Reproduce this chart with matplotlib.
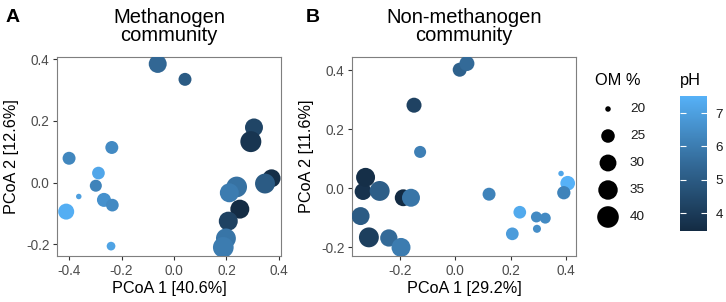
import numpy as np
import matplotlib.pyplot as plt
from matplotlib.colors import LinearSegmentedColormap, Normalize
from matplotlib.cm import ScalarMappable

plt.rcParams['font.family'] = ['Liberation Sans', 'DejaVu Sans']

# Panel A: methanogen community (PCoA scores, pH, organic matter %)
meth_pc1 = [-0.062, 0.042, 0.305, 0.293, -0.237, -0.400, -0.288, -0.298, -0.363, -0.267, -0.235,
            -0.411, -0.240, 0.372, 0.347, 0.239, 0.211, 0.251, 0.207, 0.198, 0.188]
meth_pc2 = [0.385, 0.335, 0.179, 0.133, 0.114, 0.079, 0.031, -0.010, -0.045, -0.056, -0.073,
            -0.094, -0.206, 0.014, -0.003, -0.014, -0.033, -0.086, -0.125, -0.181, -0.210]
meth_ph = [5.4, 5.0, 4.3, 3.8, 6.4, 6.3, 7.2, 6.2, 7.0, 6.6, 6.4,
           7.4, 7.1, 3.6, 5.0, 5.7, 6.0, 3.5, 4.2, 5.8, 6.0]
meth_om = [32, 24.3, 32, 38.5, 24.3, 24.3, 24, 23.3, 20, 25.6, 24,
           28.5, 20.8, 32, 36, 37.8, 34, 34, 34, 36, 37.8]

# Panel B: non-methanogen community
non_pc1 = [0.016, 0.042, -0.149, -0.127, -0.333, -0.324, -0.273, -0.188, -0.160, -0.342, -0.312,
           -0.240, -0.196, 0.122, 0.233, 0.206, 0.293, 0.325, 0.295, 0.382, 0.406, 0.392]
non_pc2 = [0.401, 0.422, 0.281, 0.123, -0.011, 0.037, -0.009, -0.032, -0.032, -0.094, -0.166,
           -0.168, -0.200, -0.020, -0.081, -0.154, -0.097, -0.101, -0.137, 0.050, 0.017, -0.015]
non_ph = [5.2, 5.5, 4.2, 6.1, 3.7, 3.6, 5.1, 3.46, 5.8, 5.0, 4.1,
          5.5, 6.0, 6.2, 7.3, 6.9, 6.4, 6.4, 6.5, 7.2, 7.51, 6.2]
non_om = [25.6, 27, 27, 23.3, 30, 34, 36, 30, 32, 32, 36,
          30.7, 34, 24.3, 24, 24, 22.3, 22.3, 20.5, 20, 26.5, 24.7]

om_breaks = [20, 25, 30, 35, 40]
ph_ticks = [4, 5, 6, 7]

W, H = 726, 302
cmap = LinearSegmentedColormap.from_list('gg', ['#132B43', '#336A98', '#56B1F7'])
norm = Normalize(vmin=3.46, vmax=7.51)


def om_size(om):
    # ggplot-like area scale, diameter in px -> scatter area in pt^2
    d_px = 5.5 + 3.6 * np.sqrt(np.clip(np.asarray(om, dtype=float) - 20, 0, None))
    return (d_px * 0.72) ** 2


def px_box(left, top, right, bottom):
    return [left / W, (H - bottom) / H, (right - left) / W, (bottom - top) / H]


fig = plt.figure(figsize=(W / 100, H / 100), dpi=100)

panels = [
    (px_box(57, 57, 281, 256), meth_pc1, meth_pc2, meth_ph, meth_om,
     'Methanogen\ncommunity', 'PCoA 1 [40.6%]', 'PCoA 2 [12.6%]',
     (-0.446, 0.408), (-0.238, 0.4075), [-0.4, -0.2, 0.0, 0.2, 0.4], [-0.2, 0.0, 0.2, 0.4], 'A', 6),
    (px_box(352, 57, 576, 256), non_pc1, non_pc2, non_ph, non_om,
     'Non-methanogen\ncommunity', 'PCoA 1 [29.2%]', 'PCoA 2 [11.6%]',
     (-0.373, 0.436), (-0.229, 0.444), [-0.2, 0.0, 0.2, 0.4], [-0.2, 0.0, 0.2, 0.4], 'B', 306),
]

for box, x, y, ph, om, title, xl, yl, xlim, ylim, xt, yt, letter, lx in panels:
    ax = fig.add_axes(box)
    ax.scatter(x, y, s=om_size(om), c=ph, cmap=cmap, norm=norm, linewidths=0, zorder=3)
    ax.set_xlim(*xlim)
    ax.set_ylim(*ylim)
    ax.set_xticks(xt)
    ax.set_yticks(yt)
    ax.set_xticklabels([f'{v:.1f}' for v in xt])
    ax.set_yticklabels([f'{v:.1f}' for v in yt])
    for sp in ax.spines.values():
        sp.set_color('#7f7f7f')
        sp.set_linewidth(0.8)
    ax.tick_params(length=3, width=0.8, color='#333333', labelcolor='#4d4d4d',
                   labelsize=9.8, pad=2.5)
    ax.set_xlabel(xl, fontsize=11.7)
    ax.set_ylabel(yl, fontsize=11.7)
    ax.xaxis.set_label_coords(0.5, -0.125)
    ax.yaxis.set_label_coords(-0.168, 0.5)
    ax.annotate(title, xy=(0.5, 1), xycoords='axes fraction', xytext=(0, 8.5),
                textcoords='offset points', ha='center', va='bottom',
                fontsize=14.5, linespacing=0.95)
    fig.text(lx / W, 1 - 22 / H, letter, fontsize=14, fontweight='bold', va='baseline')

# size legend (OM %)
fig.text(595 / W, 1 - 85 / H, 'OM %', fontsize=11.8, va='baseline')
lax = fig.add_axes(px_box(590, 95, 660, 230))
lax.set_xlim(0, 70)
lax.set_ylim(135, 0)
lax.axis('off')
ly = 14 + 27 * np.arange(len(om_breaks))
lax.scatter(np.full(len(om_breaks), 18), ly, s=om_size(om_breaks), color='black',
            linewidths=0, clip_on=False)
for yy, v in zip(ly, om_breaks):
    lax.text(40, yy, str(v), fontsize=9.7, va='center', ha='left', color='#1a1a1a')

# colour bar (pH)
fig.text(680 / W, 1 - 85 / H, 'pH', fontsize=11.8, va='baseline')
cax = fig.add_axes(px_box(680, 96, 707, 231))
cb = fig.colorbar(ScalarMappable(norm=norm, cmap=cmap), cax=cax, ticks=ph_ticks)
cb.outline.set_visible(False)
cax.tick_params(direction='in', left=True, right=True, length=4, width=0.8,
                color='white', labelsize=9.7, labelcolor='#1a1a1a', pad=6)

fig.savefig('out.png', dpi=100)
